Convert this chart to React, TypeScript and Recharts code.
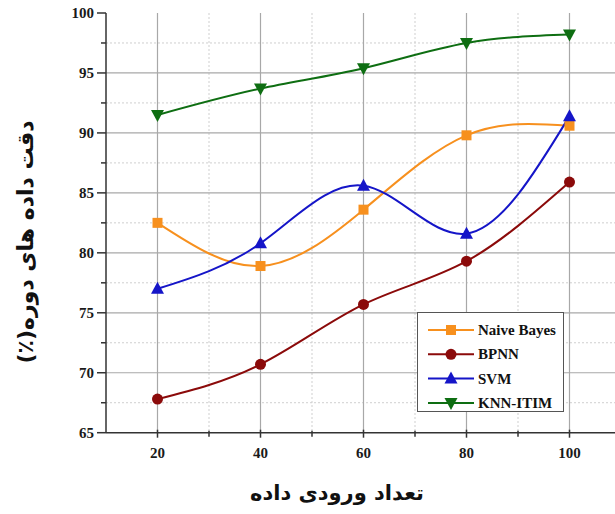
import React from 'react';
import { LineChart, Line, XAxis, YAxis, CartesianGrid, Legend } from 'recharts';

const dataSizes = [20, 40, 60, 80, 100];
const naiveBayes = [82.5, 78.9, 83.6, 89.8, 90.6];
const bpnn = [67.8, 70.7, 75.7, 79.3, 85.9];
const svm = [77.0, 80.8, 85.6, 81.6, 91.4];
const knnItim = [91.5, 93.7, 95.4, 97.5, 98.2];

const xMajorTicks = [20, 40, 60, 80, 100];
const xMinorTicks = [30, 50, 70, 90];
const yMajorTicks = [65, 70, 75, 80, 85, 90, 95, 100];
const yMinorTicks = [67.5, 72.5, 77.5, 82.5, 87.5, 92.5, 97.5];

const xTitle = 'تعداد ورودی داده';
const yTitle = 'دقت داده های دوره(٪)';

const data = dataSizes.map((x, i) => ({
  x,
  nb: naiveBayes[i],
  bpnn: bpnn[i],
  svm: svm[i],
  knn: knnItim[i],
}));

const C_NB = '#F7901E';
const C_BP = '#8B0A0A';
const C_SVM = '#1515C8';
const C_KNN = '#0E6E12';
const AXIS = '#333333';
const TICK_FONT = "'Liberation Serif', 'Times New Roman', serif";

type Shape = 'square' | 'circle' | 'up' | 'down';

function Marker({ shape, cx, cy, color }: { shape: Shape; cx: number; cy: number; color: string }) {
  if (shape === 'square') return <rect x={cx - 5} y={cy - 5} width={10} height={10} fill={color} />;
  if (shape === 'circle') return <circle cx={cx} cy={cy} r={5.5} fill={color} />;
  if (shape === 'up')
    return <polygon points={`${cx},${cy - 7} ${cx - 6.5},${cy + 5} ${cx + 6.5},${cy + 5}`} fill={color} />;
  return <polygon points={`${cx},${cy + 7} ${cx - 6.5},${cy - 5} ${cx + 6.5},${cy - 5}`} fill={color} />;
}

const makeDot = (shape: Shape, color: string) => (props: any) => {
  const { cx, cy, index } = props;
  if (cx == null || cy == null) return <g key={`d-${index}`} />;
  return (
    <g key={`d-${shape}-${index}`}>
      <Marker shape={shape} cx={cx} cy={cy} color={color} />
    </g>
  );
};

const XTick = (props: any) => {
  const { x, y, payload } = props;
  const major = payload.value % 20 === 0;
  return (
    <g>
      <line x1={x} x2={x} y1={y - (major ? 3 : 2)} y2={y + (major ? 5 : 4)} stroke={AXIS} strokeWidth={1.5} />
      {major && (
        <text x={x} y={y + 25} textAnchor="middle" fontFamily={TICK_FONT} fontWeight="bold" fontSize={15} fill="#1a1a1a">
          {payload.value}
        </text>
      )}
    </g>
  );
};

const YTick = (props: any) => {
  const { x, y, payload } = props;
  const major = payload.value % 5 === 0;
  return (
    <g>
      <line x1={x - (major ? 9 : 5)} x2={x} y1={y} y2={y} stroke={AXIS} strokeWidth={1.5} />
      {major && (
        <text x={x - 12} y={y + 5} textAnchor="end" fontFamily={TICK_FONT} fontWeight="bold" fontSize={15} fill="#1a1a1a">
          {payload.value}
        </text>
      )}
    </g>
  );
};

const legendItems: { name: string; color: string; shape: Shape }[] = [
  { name: 'Naive Bayes', color: C_NB, shape: 'square' },
  { name: 'BPNN', color: C_BP, shape: 'circle' },
  { name: 'SVM', color: C_SVM, shape: 'up' },
  { name: 'KNN-ITIM', color: C_KNN, shape: 'down' },
];

const LegendBox = () => (
  <div
    style={{
      width: 147,
      height: 100,
      boxSizing: 'border-box',
      border: '1px solid #555',
      background: '#fff',
      position: 'relative',
    }}
  >
    <svg width={145} height={98} style={{ position: 'absolute', left: 0, top: 0 }}>
      {legendItems.map((it, i) => {
        const cy = 17 + i * 24.3;
        return (
          <g key={it.name}>
            <line x1={10} x2={56} y1={cy} y2={cy} stroke={it.color} strokeWidth={2} />
            <Marker shape={it.shape} cx={33} cy={cy} color={it.color} />
            <text x={60} y={cy + 5} fontFamily={TICK_FONT} fontWeight="bold" fontSize={15} fill="#111">
              {it.name}
            </text>
          </g>
        );
      })}
    </svg>
  </div>
);

export default function App() {
  return (
    <div style={{ position: 'absolute', left: 0, top: 0, width: 615, height: 514, overflow: 'hidden', background: '#fff' }}>
      <LineChart width={621} height={514} data={data} margin={{ top: 13, right: 0, bottom: 0, left: 0 }}>
        <CartesianGrid
          horizontalValues={yMinorTicks}
          verticalValues={xMinorTicks}
          stroke="#cfcfcf"
          strokeDasharray="2 2"
          strokeWidth={1}
        />
        <CartesianGrid
          horizontalValues={[70, 75, 80, 85, 90, 95]}
          verticalValues={xMajorTicks}
          stroke="#a8a8a8"
          strokeWidth={1.2}
        />
        <XAxis
          xAxisId="top"
          orientation="top"
          type="number"
          dataKey="x"
          domain={[10, 110]}
          ticks={[...xMajorTicks, ...xMinorTicks]}
          height={0}
          mirror
          tickSize={0}
          tick={(p: any) => {
            const major = p.payload.value % 20 === 0;
            return <line x1={p.x} x2={p.x} y1={13} y2={13 + (major ? 5 : 3)} stroke={AXIS} strokeWidth={1.5} />;
          }}
          axisLine={{ stroke: AXIS, strokeWidth: 1.5 }}
          tickLine={false}
        />
        <XAxis
          type="number"
          dataKey="x"
          domain={[10, 110]}
          ticks={[...xMajorTicks, ...xMinorTicks].sort((a, b) => a - b)}
          interval={0}
          height={81.3}
          tickSize={0}
          tickMargin={0}
          tickLine={false}
          tick={<XTick />}
          axisLine={{ stroke: AXIS, strokeWidth: 1.5 }}
          label={{
            content: () => (
              <text
                x={337}
                y={500}
                textAnchor="middle"
                direction="rtl"
                fontFamily="'DejaVu Sans', sans-serif"
                fontWeight="bold"
                fontSize={21}
                fill="#111"
              >
                {xTitle}
              </text>
            ),
          }}
        />
        <YAxis
          type="number"
          domain={[65, 100]}
          ticks={[...yMajorTicks, ...yMinorTicks].sort((a, b) => a - b)}
          interval={0}
          width={106}
          tickSize={0}
          tickMargin={0}
          tickLine={false}
          tick={<YTick />}
          axisLine={{ stroke: AXIS, strokeWidth: 1.5 }}
          label={{
            content: () => (
              <text
                x={33}
                y={242}
                transform="rotate(-90, 33, 242)"
                textAnchor="middle"
                direction="rtl"
                fontFamily="'DejaVu Sans', sans-serif"
                fontWeight="bold"
                fontSize={22}
                fill="#111"
              >
                {yTitle}
              </text>
            ),
          }}
        />
        <Line type="natural" dataKey="nb" name="Naive Bayes" stroke={C_NB} strokeWidth={2} dot={makeDot('square', C_NB)} activeDot={false} isAnimationActive={false} />
        <Line type="natural" dataKey="bpnn" name="BPNN" stroke={C_BP} strokeWidth={2} dot={makeDot('circle', C_BP)} activeDot={false} isAnimationActive={false} />
        <Line type="natural" dataKey="svm" name="SVM" stroke={C_SVM} strokeWidth={2} dot={makeDot('up', C_SVM)} activeDot={false} isAnimationActive={false} />
        <Line type="natural" dataKey="knn" name="KNN-ITIM" stroke={C_KNN} strokeWidth={2} dot={makeDot('down', C_KNN)} activeDot={false} isAnimationActive={false} />
        <Legend
          layout="horizontal"
          verticalAlign="middle"
          align="center"
          wrapperStyle={{ left: 417, top: 312, width: 147, height: 100 }}
          content={() => <LegendBox />}
        />
      </LineChart>
    </div>
  );
}
